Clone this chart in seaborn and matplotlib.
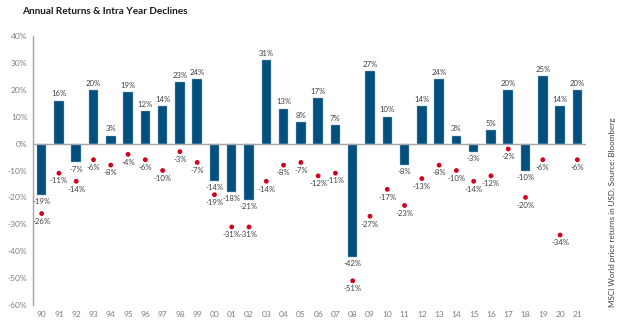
import matplotlib
matplotlib.use("Agg")
import matplotlib.pyplot as plt
import seaborn as sns
import pandas as pd
import numpy as np

years = ["90","91","92","93","94","95","96","97","98","99","00","01","02","03","04","05",
         "06","07","08","09","10","11","12","13","14","15","16","17","18","19","20","21"]
annual_returns = [-19,16,-7,20,3,19,12,14,23,24,-14,-18,-21,31,13,8,
                  17,7,-42,27,10,-8,14,24,3,-3,5,20,-10,25,14,20]
intra_year_declines = [-26,-11,-14,-6,-8,-4,-6,-10,-3,-7,-19,-31,-31,-14,-8,-7,
                       -12,-11,-51,-27,-17,-23,-13,-8,-10,-14,-12,-2,-20,-6,-34,-6]

df = pd.DataFrame({"year": years, "ret": annual_returns, "dec": intra_year_declines})

sns.set_theme(style="white")
plt.rcParams['font.family'] = ['Lato', 'DejaVu Sans']

fig = plt.figure(figsize=(6.3, 3.36), dpi=100)
ax = fig.add_axes([33/630, 1-305/336, (586-33)/630, (305-36)/336])

bar_color = "#03507E"
dot_color = "#D0021B"
gray = "#7F7F7F"

sns.barplot(data=df, x="year", y="ret", color=bar_color, width=0.55,
            saturation=1, ax=ax, edgecolor="#8FB3CC", linewidth=0.3)
sns.scatterplot(data=df, x="year", y="dec", color=dot_color, s=12,
                edgecolor="none", ax=ax, zorder=3)

ax.set_ylim(-60, 40)
ax.set_xlim(-0.5, len(years) - 0.5)
ax.set_yticks(np.arange(-60, 41, 10))
ax.set_yticklabels([f"{v}%" for v in range(-60, 41, 10)])
ax.tick_params(axis="both", length=0, labelsize=6, colors=gray, pad=4)
ax.set_xlabel("")
ax.set_ylabel("")

for s in ["top", "right", "bottom"]:
    ax.spines[s].set_visible(False)
ax.spines["left"].set_color("#A6A6A6")
ax.spines["left"].set_linewidth(1.0)
ax.axhline(0, color="#A6A6A6", linewidth=1.0, zorder=1)

lbl_color = "#404040"
fs = 5.6
for i, (r, d) in enumerate(zip(annual_returns, intra_year_declines)):
    if r >= 0:
        ax.text(i, r + 1.2, f"{r}%", ha="center", va="bottom", fontsize=fs, color=lbl_color)
    else:
        ax.text(i, r - 1.2, f"{r}%", ha="center", va="top", fontsize=fs, color=lbl_color)
    ax.text(i, d - 1.6, f"{d}%", ha="center", va="top", fontsize=fs, color=lbl_color)

fig.text(22/630, 1-12/336, "Annual Returns & Intra Year Declines", ha="left", va="center",
         fontsize=7.2, fontweight="bold", color="#1A1A1A")
fig.text(612/630, 1-212/336, "MSCI World price returns in USD. Source: Bloomberg",
         rotation=90, ha="center", va="center", fontsize=5.8, color="#404040")

fig.savefig("out.png", dpi=100)
